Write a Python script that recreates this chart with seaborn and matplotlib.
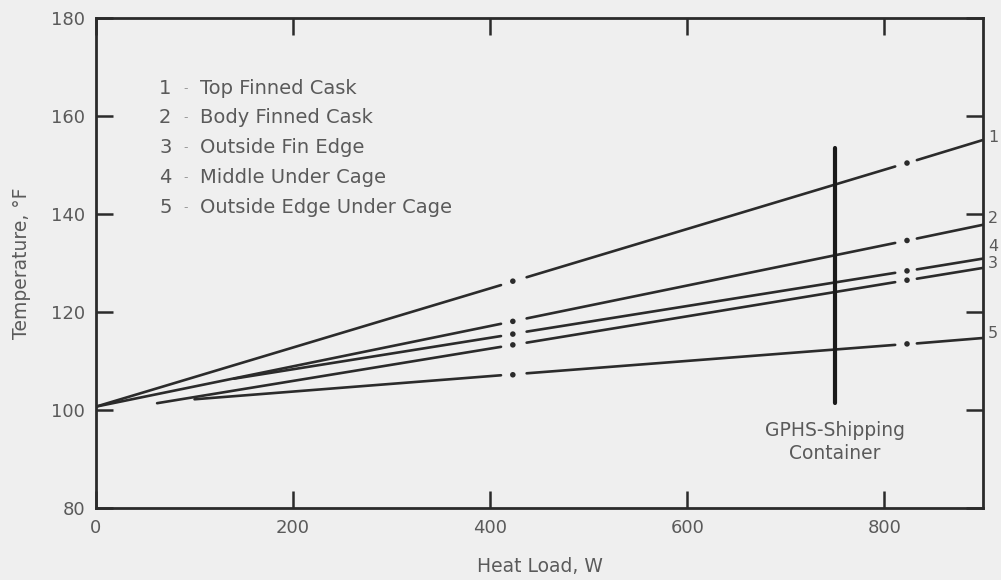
import matplotlib
matplotlib.use("Agg")
import matplotlib.pyplot as plt
import seaborn as sns
import pandas as pd

# ---- data ----
x1 = [0, 411, 437, 811, 833, 900]
t1 = [100.7, 125.5, 127.1, 149.7, 151.0, 155.1]
x2 = [0, 411, 437, 811, 833, 900]
t2 = [100.7, 117.6, 118.7, 134.1, 135.0, 137.8]
x3 = [62, 411, 437, 811, 833, 900]
t3 = [101.4, 112.9, 113.75, 126.1, 126.8, 129.0]
x4 = [140, 411, 437, 811, 833, 900]
t4 = [106.4, 115.1, 116.0, 128.0, 128.7, 130.9]
x5 = [100, 411, 437, 811, 833, 900]
t5 = [102.2, 107.1, 107.5, 113.3, 113.6, 114.7]

dot_x = [423, 823]
d1 = [126.3, 150.4]
d2 = [118.1, 134.6]
d3 = [113.3, 126.5]
d4 = [115.5, 128.4]
d5 = [107.2, 113.5]

series_ids = ["1", "2", "3", "4", "5"]
legend_names = ["Top Finned Cask", "Body Finned Cask", "Outside Fin Edge",
                "Middle Under Cage", "Outside Edge Under Cage"]
end_label_order = ["1", "2", "4", "3", "5"]
end_label_y = [155.7, 139.0, 133.3, 130.0, 115.7]

container_x = [750, 750]
container_t = [101.5, 153.5]
container_text = "GPHS-Shipping\nContainer"

x_ticks = [0, 200, 400, 600, 800]
y_ticks = [80, 100, 120, 140, 160, 180]

# ---- build tables ----
xs = [x1, x2, x3, x4, x5]
ts = [t1, t2, t3, t4, t5]
ds = [d1, d2, d3, d4, d5]
rows = []
for sid, xv, tv in zip(series_ids, xs, ts):
    for k in range(0, len(xv), 2):
        for j in (k, k + 1):
            rows.append({"x": xv[j], "t": tv[j], "seg": f"{sid}-{k}"})
lines_df = pd.DataFrame(rows)
dot_rows = []
for sid, dv in zip(series_ids, ds):
    for xx, yy in zip(dot_x, dv):
        dot_rows.append({"x": xx, "t": yy, "series": sid})
dots_df = pd.DataFrame(dot_rows)
cont_df = pd.DataFrame({"x": container_x, "t": container_t, "seg": ["c", "c"]})

# ---- style ----
bg = "#efefef"
ink = "#2b2b2b"
txt = "#5a5a5a"
sns.set_style("ticks")
plt.rcParams["font.family"] = ["DejaVu Sans"]

fig = plt.figure(figsize=(10.01, 5.80), dpi=100, facecolor=bg)
ax = fig.add_axes([0.0959, 0.124, 0.886, 0.845])
ax.set_facecolor(bg)

sns.lineplot(data=lines_df, x="x", y="t", units="seg", estimator=None,
             color=ink, linewidth=1.9, sort=False, legend=False, ax=ax)
sns.scatterplot(data=dots_df, x="x", y="t", color=ink, s=16,
                edgecolor="none", legend=False, ax=ax, zorder=3)
sns.lineplot(data=cont_df, x="x", y="t", units="seg", estimator=None,
             color="#1a1a1a", linewidth=3.0, sort=False, legend=False, ax=ax)

ax.set_xlim(0, 900)
ax.set_ylim(80, 180)
ax.set_xticks(x_ticks)
ax.set_yticks(y_ticks)
ax.tick_params(direction="in", top=True, right=True, length=12, width=1.8,
               color=ink, labelsize=13, labelcolor=txt, pad=8)
for sp in ax.spines.values():
    sp.set_visible(True)
    sp.set_linewidth(2.0)
    sp.set_color(ink)

ax.set_xlabel("Heat Load, W", fontsize=13.5, color=txt, labelpad=14)
ax.set_ylabel("Temperature, °F", fontsize=13.5, color=txt, labelpad=14)

# legend text block
leg_y = [165.7, 159.6, 153.5, 147.4, 141.4]
for sid, name, yy in zip(series_ids, legend_names, leg_y):
    ax.text(64, yy, sid, fontsize=14, color=txt, va="center", ha="left")
    ax.text(89, yy, "-", fontsize=9, color="#9a9a9a", va="center", ha="left")
    ax.text(106, yy, name, fontsize=14, color=txt, va="center", ha="left")

# right-end labels
for lab, yy in zip(end_label_order, end_label_y):
    ax.text(905, yy, lab, fontsize=11.5, color=txt, va="center", ha="left",
            clip_on=False)

ax.text(750, 93.5, container_text, fontsize=13.5, color=txt, ha="center",
        va="center", linespacing=1.25)

fig.savefig("out.png", dpi=100, facecolor=bg)
